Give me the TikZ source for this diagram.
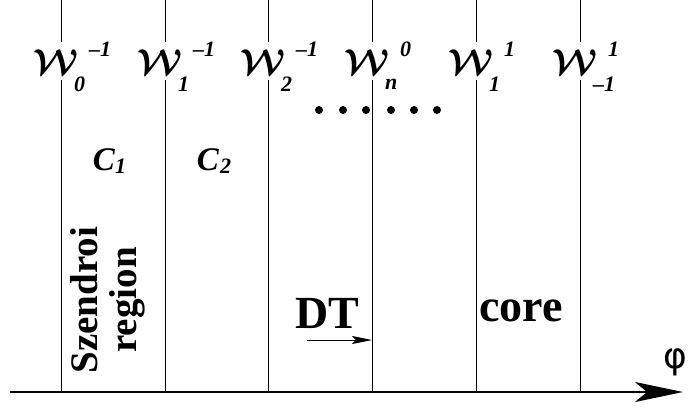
\documentclass[tikz,border=0pt]{standalone}
\usepackage{amsmath}
\usepackage{fontspec}
\setmainfont{Liberation Serif}
\newfontfamily\symfont{DejaVu Sans}
\usepackage{graphicx}
\usetikzlibrary{arrows.meta}
\begin{document}
\begin{tikzpicture}[x=1pt,y=-1pt,
  vline/.style={line width=1pt},
  wlab/.style={inner sep=0pt},
  idx/.style={inner sep=0pt,anchor=west,font=\fontsize{22}{22}\selectfont\bfseries\itshape},
  cl/.style={inner sep=0pt,font=\fontsize{33}{33}\selectfont\bfseries\itshape},
  big/.style={inner sep=0pt,font=\fontsize{46}{46}\selectfont\bfseries},
  dot/.style={circle,fill=black,inner sep=0pt,minimum size=8pt}]
\useasboundingbox (0,0) rectangle (695,408);
% vertical lines
\foreach \n/\x in {a/61,b/165,c/268,d/372,e/476,f/580}{
  \coordinate (\n-t) at (\x,0);
  \coordinate (\n-m) at (\x,42);
  \coordinate (\n-u) at (\x,80);
  \coordinate (\n-b) at (\x,392);
  \draw[vline] (\n-t) -- (\n-m);
  \draw[vline] (\n-u) -- (\n-b);
}
% axis
\coordinate (ax0) at (10,392);
\coordinate (ax1) at (683,392);
\draw[line width=2pt,-{Stealth[length=48pt,width=20pt,inset=12pt]}] (ax0) -- (ax1);
\node[inner sep=0pt,font=\symfont\fontsize{36}{36}\selectfont] (phi) at (675,362) {φ};
% W labels
\foreach \n/\x/\s/\p in {wa/61/0/–1,wb/165/1/–1,wc/268/2/–1,wd/372/n/0,we/476/1/1,wf/580/–1/1}{
  \node[wlab] (\n) at (\x-5,62) {\scalebox{3.6}{$\boldsymbol{\mathcal{W}}$}};
  \node[idx] (\n-sub) at (\x+13,84) {\s};
  \node[idx] (\n-sup) at (\x+28,49) {\p};
}
% dots
\foreach \i/\x in {1/319,2/343,3/366,4/391,5/414,6/437}{
  \node[dot] (dot\i) at (\x,110) {};
}
% C labels
\node[cl] (c1) at (104,160) {C};
\node[idx] (c1s) at (115,166) {1};
\node[cl] (c2) at (208,160) {C};
\node[idx] (c2s) at (220,166) {2};
% Szendroi region
\node[rotate=90,align=center,inner sep=0pt,font=\fontsize{39}{39}\selectfont\bfseries] (sz) at (108,300) {Szendroi\\region};
% DT
\node[big] (dt) at (327,313) {DT};
\coordinate (dta) at (307,340);
\draw[line width=1pt,-{Stealth[length=20pt,width=8pt,inset=4pt]}] (dta) -- (d-b |- dta);
% core
\node[big] (core) at (521,311) {core};
\end{tikzpicture}
\end{document}
